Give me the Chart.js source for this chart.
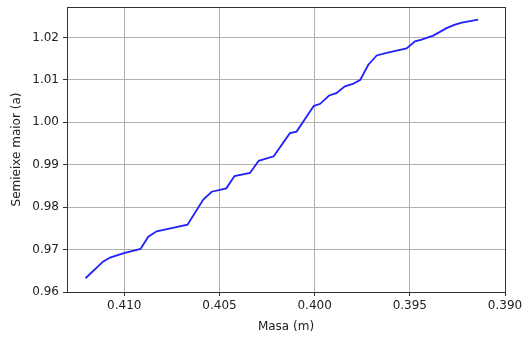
<!DOCTYPE html>
<html>
<head>
<meta charset="utf-8">
<script src="https://cdn.jsdelivr.net/npm/chart.js@4.4.1/dist/chart.umd.min.js"></script>
<style>
  html, body { margin: 0; padding: 0; background: #fff; }
  #wrap { width: 525px; height: 338px; position: relative; }
</style>
</head>
<body>
<div id="wrap"><canvas id="orbit-chart"></canvas></div>
<script>
// mass (x) and semi-major axis (y)
const massa = [
    0.41204, 0.41112, 0.41075, 0.41002, 0.40915, 0.40874, 0.40830, 0.40739,
    0.40668, 0.40585, 0.40541, 0.40464, 0.40421, 0.40340, 0.40294, 0.40215,
    0.40130, 0.40095, 0.40005, 0.39971, 0.39924, 0.39886, 0.39841, 0.39799,
    0.39760, 0.39718, 0.39674, 0.39622, 0.39517, 0.39473, 0.39438, 0.39377,
    0.39307, 0.39263, 0.39227, 0.39141
];
const semieixe = [
    0.96324, 0.96714, 0.96813, 0.96915, 0.97014, 0.97305, 0.97430, 0.97518,
    0.97589, 0.98180, 0.98364, 0.98444, 0.98735, 0.98806, 0.99094, 0.99201,
    0.99745, 0.99782, 1.00383, 1.00437, 1.00633, 1.00690, 1.00851, 1.00905,
    1.01005, 1.01359, 1.01577, 1.01636, 1.01744, 1.01910, 1.01950, 1.02045,
    1.02222, 1.02305, 1.02352, 1.02423
];
const xTicks = [0.410, 0.405, 0.400, 0.395, 0.390];
const yTicks = [0.96, 0.97, 0.98, 0.99, 1.00, 1.01, 1.02];

const orbitChart = (function () {
    const font = { family: 'DejaVu Sans', size: 12 };
    const textColor = '#222';

    function getChartData() {
        const points = massa.map(function (m, i) {
            return { x: m, y: semieixe[i] };
        });

        return {
            datasets: [{
                data: points,
                showLine: true,
                borderColor: '#2020ff',
                borderWidth: 1.8,
                pointRadius: 0,
                fill: false,
                tension: 0
            }]
        };
    }

    // box around the plot area, like matplotlib spines
    const frame = {
        id: 'frame',
        afterDraw(chart) {
            const a = chart.chartArea;
            const ctx = chart.ctx;
            ctx.save();
            ctx.strokeStyle = '#333';
            ctx.lineWidth = 1;
            ctx.strokeRect(Math.round(a.left) + 0.5, Math.round(a.top) + 0.5,
                Math.round(a.right - a.left), Math.round(a.bottom - a.top));
            ctx.restore();
        }
    };

    function config(ele, chartData) {
        const cfg = {
            type: 'scatter',
            data: chartData,
            options: {
                responsive: true,
                maintainAspectRatio: false,
                animation: false,
                devicePixelRatio: 1,
                layout: { padding: { top: 7, right: 20, left: 0, bottom: 0 } },
                plugins: {
                    legend: { display: false },
                    tooltip: { enabled: false }
                },
                scales: {
                    x: {
                        type: 'linear',
                        reverse: true,
                        min: 0.390,
                        max: 0.41301,
                        afterBuildTicks: function (scale) {
                            scale.ticks = xTicks.map(function (v) { return { value: v }; });
                        },
                        afterFit: function (scale) {
                            scale.height = 46;
                            scale.paddingLeft = 0;
                            scale.paddingRight = 0;
                        },
                        border: { display: false },
                        grid: {
                            color: '#b0b0b0',
                            lineWidth: 1,
                            tickColor: '#333',
                            tickLength: 4
                        },
                        ticks: {
                            font: font,
                            color: textColor,
                            padding: 3,
                            maxRotation: 0,
                            callback: function (v) { return v.toFixed(3); }
                        },
                        title: {
                            display: true,
                            text: 'Masa (m)',
                            font: font,
                            color: textColor,
                            padding: { top: 0, bottom: 4 }
                        }
                    },
                    y: {
                        type: 'linear',
                        min: 0.96,
                        max: 1.0272,
                        afterBuildTicks: function (scale) {
                            scale.ticks = yTicks.map(function (v) { return { value: v }; });
                        },
                        afterFit: function (scale) {
                            scale.width = 67;
                            scale.paddingTop = 0;
                            scale.paddingBottom = 0;
                        },
                        border: { display: false },
                        grid: {
                            color: '#b0b0b0',
                            lineWidth: 1,
                            tickColor: '#333',
                            tickLength: 4
                        },
                        ticks: {
                            font: font,
                            color: textColor,
                            padding: 4,
                            callback: function (v) { return v.toFixed(2); }
                        },
                        title: {
                            display: true,
                            text: 'Semieixe maior (a)',
                            font: font,
                            color: textColor,
                            padding: { top: 9.5, bottom: 0 }
                        }
                    }
                }
            },
            plugins: [frame]
        };

        return new Chart(ele, cfg);
    }

    return {
        configureChart: function () {
            const ele = document.getElementById('orbit-chart');
            config(ele, getChartData());
        }
    };
})();

orbitChart.configureChart();
</script>
</body>
</html>
